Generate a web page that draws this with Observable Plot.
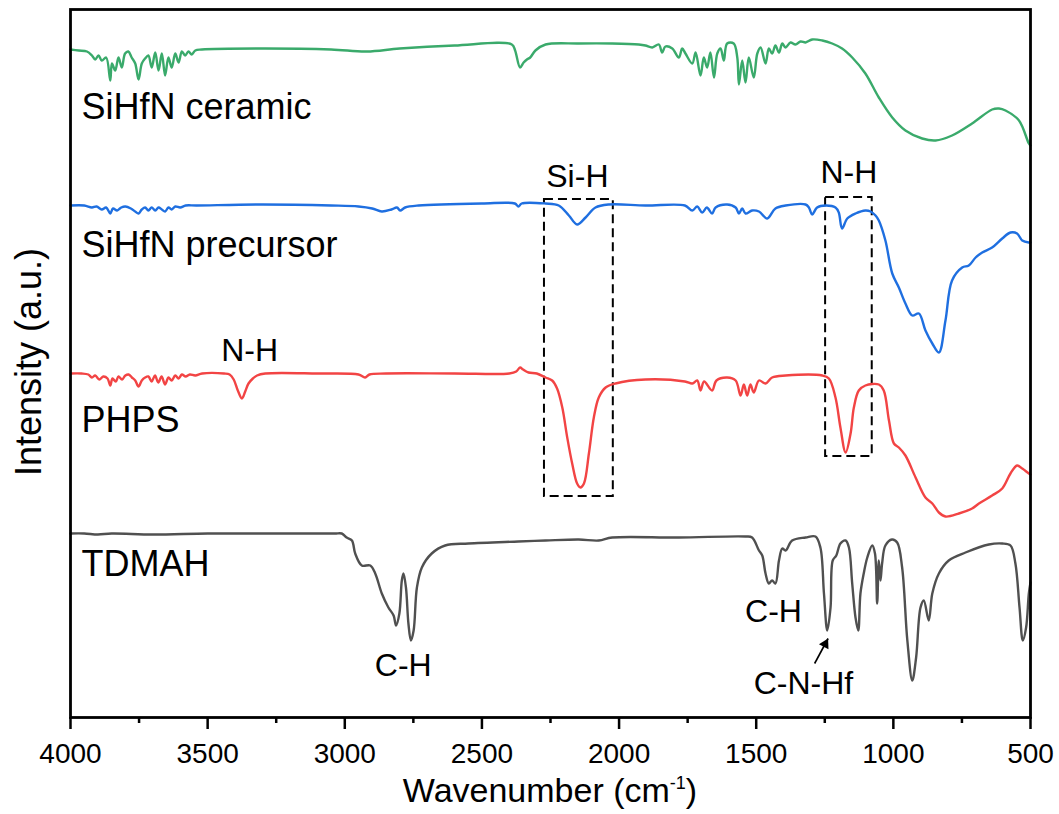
<!DOCTYPE html>
<html>
<head>
<meta charset="utf-8">
<script src="https://cdn.jsdelivr.net/npm/d3@7"></script>
<script src="https://cdn.jsdelivr.net/npm/@observablehq/plot@0.6"></script>
<style>
  html, body { margin: 0; padding: 0; background: #fff; }
  #chart svg { display: block; }
</style>
</head>
<body>
<div id="chart"></div>
<script>
// ---- tick values ----
const wnTicks = [4000, 3500, 3000, 2500, 2000, 1500, 1000, 500];
const wnMinorTicks = [3750, 3250, 2750, 2250, 1750, 1250, 750];

// ---- series names & colours ----
const seriesNames = ["SiHfN ceramic", "SiHfN precursor", "PHPS", "TDMAH"];
const seriesColors = ["#3aaa6b", "#1f6fe0", "#f24444", "#505050"];

// ---- spectra: [wavenumber (cm-1), intensity (a.u., offset)] ----
const ceramic = [[4000,6.68],[3970,6.67],[3940,6.66],[3922,6.62],[3910,6.58],[3898,6.62],[3886,6.57],[3870,6.60],[3855,6.37],[3849,6.54],[3837,6.47],[3825,6.60],[3813,6.50],[3801,6.64],[3789,6.66],[3777,6.60],[3764,6.54],[3752,6.38],[3740,6.54],[3728,6.59],[3716,6.62],[3704,6.50],[3691,6.65],[3679,6.47],[3667,6.64],[3655,6.42],[3643,6.60],[3631,6.50],[3618,6.64],[3606,6.55],[3594,6.66],[3582,6.62],[3570,6.66],[3558,6.63],[3545,6.67],[3521,6.68],[3300,6.69],[3050,6.68],[2920,6.66],[2800,6.69],[2600,6.72],[2391,6.73],[2379,6.67],[2361,6.50],[2348,6.55],[2336,6.58],[2324,6.60],[2305,6.67],[2268,6.73],[2147,6.74],[2025,6.74],[1928,6.73],[1904,6.72],[1879,6.70],[1855,6.73],[1843,6.65],[1831,6.71],[1806,6.69],[1782,6.60],[1770,6.69],[1758,6.64],[1733,6.54],[1721,6.65],[1703,6.42],[1691,6.60],[1679,6.50],[1667,6.65],[1654,6.40],[1642,6.64],[1630,6.69],[1618,6.57],[1606,6.74],[1582,6.74],[1569,6.60],[1563,6.33],[1551,6.57],[1539,6.35],[1527,6.60],[1509,6.40],[1496,6.64],[1484,6.70],[1466,6.54],[1454,6.69],[1442,6.64],[1430,6.72],[1417,6.65],[1405,6.74],[1393,6.70],[1375,6.75],[1357,6.73],[1338,6.76],[1320,6.75],[1296,6.78],[1259,6.77],[1223,6.74],[1187,6.69],[1150,6.60],[1102,6.44],[1053,6.20],[1004,6.00],[956,5.87],[895,5.79],[846,5.77],[786,5.82],[713,5.94],[640,6.08],[615,6.09],[591,6.07],[542,5.97],[506,5.74],[500,5.72]];

const precursor = [[4000,5.12],[3950,5.12],[3922,5.10],[3905,5.11],[3886,5.08],[3870,5.10],[3855,5.04],[3845,5.09],[3830,5.07],[3815,5.10],[3800,5.11],[3780,5.09],[3764,5.06],[3752,5.04],[3740,5.08],[3728,5.10],[3716,5.07],[3704,5.10],[3691,5.07],[3679,5.10],[3667,5.08],[3655,5.06],[3643,5.10],[3631,5.08],[3618,5.11],[3600,5.10],[3580,5.12],[3540,5.12],[3300,5.13],[3050,5.12],[2950,5.11],[2900,5.09],[2865,5.06],[2830,5.08],[2810,5.10],[2798,5.07],[2780,5.10],[2731,5.12],[2500,5.14],[2380,5.14],[2367,5.11],[2355,5.14],[2268,5.14],[2220,5.12],[2183,5.02],[2153,4.93],[2122,5.00],[2086,5.10],[2037,5.13],[1904,5.12],[1760,5.12],[1733,5.07],[1715,5.11],[1697,5.05],[1680,5.10],[1661,5.04],[1648,5.10],[1606,5.13],[1575,5.10],[1563,5.04],[1551,5.09],[1539,5.04],[1515,5.07],[1490,5.06],[1460,4.99],[1430,5.09],[1393,5.12],[1320,5.13],[1308,5.10],[1296,5.03],[1278,5.10],[1247,5.12],[1211,5.10],[1199,5.05],[1187,4.89],[1168,4.99],[1138,5.04],[1102,5.07],[1083,5.06],[1065,5.02],[1053,4.97],[1029,4.77],[1004,4.44],[980,4.30],[956,4.14],[931,4.02],[907,4.04],[883,3.87],[858,3.74],[834,3.65],[810,3.97],[786,4.37],[749,4.50],[725,4.52],[700,4.60],[676,4.65],[640,4.70],[603,4.79],[573,4.85],[549,4.84],[530,4.77],[506,4.75],[500,4.75]];

const phps = [[4000,3.44],[3960,3.44],[3935,3.43],[3922,3.40],[3910,3.42],[3895,3.38],[3880,3.41],[3865,3.39],[3855,3.32],[3847,3.39],[3835,3.36],[3825,3.41],[3812,3.38],[3800,3.42],[3788,3.43],[3776,3.40],[3764,3.37],[3752,3.31],[3740,3.37],[3728,3.40],[3716,3.41],[3704,3.36],[3692,3.42],[3680,3.35],[3668,3.41],[3655,3.33],[3643,3.40],[3631,3.37],[3618,3.42],[3606,3.39],[3594,3.43],[3580,3.41],[3565,3.43],[3545,3.42],[3520,3.44],[3440,3.44],[3420,3.43],[3405,3.38],[3390,3.27],[3375,3.19],[3363,3.26],[3351,3.34],[3335,3.39],[3320,3.42],[3290,3.44],[3100,3.44],[2950,3.43],[2926,3.40],[2910,3.43],[2850,3.44],[2600,3.44],[2400,3.44],[2375,3.46],[2361,3.50],[2350,3.48],[2330,3.45],[2300,3.44],[2268,3.40],[2244,3.37],[2226,3.29],[2207,3.10],[2189,2.80],[2171,2.54],[2153,2.34],[2141,2.30],[2128,2.34],[2110,2.64],[2092,3.00],[2074,3.20],[2049,3.30],[2013,3.34],[1904,3.38],[1760,3.36],[1733,3.34],[1715,3.37],[1703,3.27],[1690,3.36],[1661,3.27],[1645,3.37],[1606,3.40],[1575,3.37],[1557,3.22],[1545,3.33],[1533,3.22],[1521,3.33],[1509,3.25],[1490,3.37],[1466,3.34],[1442,3.40],[1393,3.42],[1259,3.42],[1235,3.39],[1211,3.20],[1193,2.90],[1174,2.65],[1156,2.84],[1144,3.10],[1126,3.27],[1102,3.32],[1053,3.33],[1035,3.27],[1016,2.97],[998,2.74],[980,2.70],[956,2.62],[919,2.40],[883,2.20],[858,2.14],[834,2.05],[810,2.01],[761,2.04],[713,2.09],[688,2.14],[640,2.22],[603,2.29],[573,2.44],[549,2.52],[530,2.49],[506,2.44],[500,2.43]];

const tdmah = [[4000,1.84],[3950,1.84],[3900,1.83],[3850,1.84],[3700,1.83],[3500,1.84],[3300,1.84],[3100,1.84],[3035,1.84],[3011,1.84],[2993,1.80],[2974,1.77],[2962,1.64],[2938,1.52],[2907,1.52],[2889,1.44],[2865,1.24],[2841,1.10],[2822,1.02],[2813,0.92],[2801,1.04],[2792,1.37],[2786,1.44],[2777,1.30],[2768,0.94],[2759,0.77],[2749,0.87],[2737,1.30],[2719,1.50],[2683,1.64],[2634,1.72],[2549,1.74],[2367,1.76],[2268,1.77],[2147,1.78],[2074,1.77],[2025,1.80],[1782,1.80],[1539,1.81],[1515,1.80],[1490,1.67],[1478,1.62],[1466,1.44],[1454,1.34],[1442,1.37],[1430,1.34],[1417,1.57],[1405,1.69],[1393,1.67],[1369,1.77],[1320,1.80],[1284,1.81],[1266,1.70],[1253,1.24],[1241,0.87],[1229,1.10],[1221,1.57],[1208,1.62],[1193,1.74],[1174,1.77],[1162,1.70],[1150,1.34],[1138,1.00],[1128,0.87],[1120,1.24],[1108,1.44],[1095,1.60],[1077,1.72],[1067,1.64],[1059,1.14],[1053,1.57],[1047,1.37],[1041,1.54],[1029,1.72],[1005,1.78],[986,1.75],[968,1.50],[949,0.77],[931,0.37],[917,0.60],[901,1.10],[889,1.17],[871,0.97],[858,1.24],[834,1.44],[798,1.57],[737,1.65],[652,1.73],[603,1.74],[573,1.72],[555,1.54],[540,1.10],[528,0.77],[516,0.90],[506,1.24],[500,1.35]];

// ---- annotations ----
const sampleLabels = [
  {text: "SiHfN ceramic", wn: 3960, au: 6.10},
  {text: "SiHfN precursor", wn: 3960, au: 4.72},
  {text: "PHPS", wn: 3960, au: 2.97},
  {text: "TDMAH", wn: 3960, au: 1.53}
];
const peakLabels = [
  {text: "N-H", wn: 3347, au: 3.67},
  {text: "Si-H", wn: 2152, au: 5.41},
  {text: "N-H", wn: 1162, au: 5.45},
  {text: "C-H", wn: 2787, au: 0.52},
  {text: "C-H", wn: 1437, au: 1.06},
  {text: "C-N-Hf", wn: 1328, au: 0.34}
];
const boxes = [
  {wn1: 2272, wn2: 2021, au1: 2.21, au2: 5.18},
  {wn1: 1247, wn2: 1077, au1: 2.61, au2: 5.20}
];
const arrows = [{wn1: 1287, au1: 0.54, wn2: 1238, au2: 0.79}];

// ---- build table ----
const spectra = [ceramic, precursor, phps, tdmah];
const rows = spectra.flatMap((s, i) => s.map(([wn, au]) => ({series: seriesNames[i], wn, au})));

const font = "'Liberation Sans', Arial, sans-serif";

const chart = Plot.plot({
  width: 1059,
  height: 814,
  marginLeft: 70,
  marginRight: 29,
  marginTop: 9,
  marginBottom: 97,
  style: {fontFamily: font, fontSize: "28px", color: "black", background: "white"},
  x: {domain: [4000, 500], label: null},
  y: {domain: [0, 7.08], axis: null},
  color: {domain: seriesNames, range: seriesColors},
  marks: [
    Plot.rect(boxes, {x1: "wn1", x2: "wn2", y1: "au1", y2: "au2", fill: "none", stroke: "black", strokeWidth: 2, strokeDasharray: "9,5"}),
    Plot.line(rows, {x: "wn", y: "au", z: "series", stroke: "series", strokeWidth: 2.4, curve: "catmull-rom"}),
    Plot.text(sampleLabels, {x: "wn", y: "au", text: "text", textAnchor: "start", fontSize: 36, fill: "black"}),
    Plot.text(peakLabels, {x: "wn", y: "au", text: "text", textAnchor: "middle", fontSize: 32, fill: "black"}),
    Plot.link(arrows, {x1: "wn1", y1: "au1", x2: "wn2", y2: "au2", stroke: "black", strokeWidth: 1.6}),
    Plot.dot(arrows, {x: "wn2", y: "au2", symbol: "triangle", r: 4, rotate: 28, fill: "black", stroke: "none", dx: -2.9, dy: 5.5}),
    Plot.frame({stroke: "black", strokeWidth: 2.8}),
    Plot.axisX(wnTicks, {tickSize: 12, tickPadding: 14, strokeWidth: 2.5, tickFormat: "d", fontSize: 28, label: null}),
    Plot.axisX(wnMinorTicks, {tickSize: 6, strokeWidth: 2.5, tickFormat: () => "", label: null})
  ]
});

document.getElementById("chart").append(chart);

// axis titles as real text
const svg = d3.select(chart.tagName.toLowerCase() === "svg" ? chart : chart.querySelector("svg"));
const xt = svg.append("text")
  .attr("x", 550).attr("y", 802)
  .attr("text-anchor", "middle")
  .attr("font-family", font).attr("font-size", 34).attr("fill", "black");
xt.append("tspan").text("Wavenumber (cm");
xt.append("tspan").attr("font-size", 18).attr("dy", -13).text("-1");
xt.append("tspan").attr("dy", 13).text(")");

svg.append("text")
  .attr("transform", "translate(41,362) rotate(-90)")
  .attr("text-anchor", "middle")
  .attr("font-family", font).attr("font-size", 36).attr("fill", "black")
  .text("Intensity (a.u.)");
</script>
</body>
</html>
